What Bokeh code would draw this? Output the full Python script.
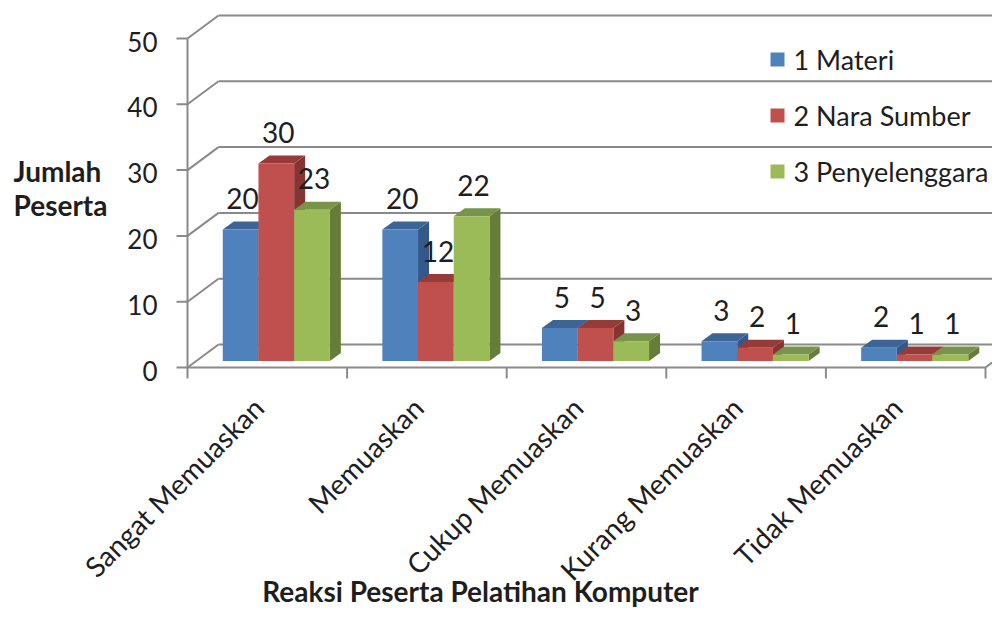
import math
from bokeh.plotting import figure
from bokeh.models import Range1d
from bokeh.core.properties import value
from bokeh.embed import file_html
from bokeh.resources import INLINE

# ---------------- data ----------------
categories = ["Sangat Memuaskan", "Memuaskan", "Cukup Memuaskan",
              "Kurang Memuaskan", "Tidak Memuaskan"]
series_names = ["1 Materi", "2 Nara Sumber", "3 Penyelenggara"]
materi = [20, 20, 5, 3, 2]
nara_sumber = [30, 12, 5, 2, 1]
penyelenggara = [23, 22, 3, 1, 1]
y_ticks = [0, 10, 20, 30, 40, 50]
y_title = ["Jumlah", "Peserta"]
x_title = "Reaksi Peserta Pelatihan Komputer"

front_colors = ["#4F81BD", "#C0504D", "#9BBB59"]
top_colors = ["#3C6495", "#973B39", "#78944A"]
side_colors = ["#34588A", "#853432", "#667C39"]
grid_color = "#8A8A8A"
text_color = "#1E1E1E"
FONT = "Lato"

# ---------------- layout (pixels) ----------------
W, H = 992, 609
AX_X = 187            # pixel column of the value axis
Y0 = 367              # pixel row (from top) of value 0
PX_X = 159.6          # pixels per category
PX_Y = 6.58           # pixels per value unit


def ux(px):
    return px / PX_X


def uy(px):
    return px / PX_Y


BACK_DX, BACK_DY = ux(31), uy(23)      # depth of the back wall
FRONT_DX, FRONT_DY = ux(9), uy(6.5)    # bars offset from the front plane
BAR_DX, BAR_DY = ux(11), uy(8)         # bar depth
BAR_W = ux(35.7)

p = figure(width=W, height=H, output_backend="svg", toolbar_location=None,
           x_range=Range1d(-ux(AX_X), ux(W - AX_X)),
           y_range=Range1d(-uy(H - Y0), uy(Y0)),
           x_axis_location=None, y_axis_location=None, tools="",
           min_border_left=0, min_border_right=0, min_border_top=0,
           min_border_bottom=0)
p.outline_line_color = None
p.grid.visible = False
p.background_fill_color = "white"

n_cat = len(categories)
nt = len(y_ticks)
xend = ux(W - AX_X) + 0.2

# value axis: line, ticks, labels
p.segment(x0=[0], y0=[y_ticks[0]], x1=[0], y1=[y_ticks[-1]],
          line_color=grid_color, line_width=2)
p.segment(x0=[-ux(11)] * nt, y0=y_ticks, x1=[0] * nt, y1=y_ticks,
          line_color=grid_color, line_width=2)
p.text(x=[-ux(30)] * nt, y=[t - uy(3) for t in y_ticks], text=[str(t) for t in y_ticks],
       text_align="right", text_baseline="middle", text_font=value(FONT),
       text_font_size="26px", text_color=text_color)

# back wall gridlines and side-wall diagonals
p.segment(x0=[BACK_DX] * nt, y0=[t + BACK_DY for t in y_ticks],
          x1=[xend] * nt, y1=[t + BACK_DY for t in y_ticks],
          line_color=grid_color, line_width=2)
p.segment(x0=[0] * nt, y0=y_ticks,
          x1=[BACK_DX] * nt, y1=[t + BACK_DY for t in y_ticks],
          line_color=grid_color, line_width=2)
# floor front edge, right diagonal, category ticks
p.segment(x0=[0], y0=[0], x1=[n_cat], y1=[0], line_color=grid_color, line_width=2)
p.segment(x0=[n_cat], y0=[0], x1=[n_cat + BACK_DX], y1=[BACK_DY],
          line_color=grid_color, line_width=2)
p.segment(x0=list(range(n_cat + 1)), y0=[0] * (n_cat + 1),
          x1=list(range(n_cat + 1)), y1=[-uy(11)] * (n_cat + 1),
          line_color=grid_color, line_width=2)

# ---------------- bars ----------------
all_series = [materi, nara_sumber, penyelenggara]
fx0, fx1, fy0, fy1, fcol = [], [], [], [], []
txs, tys, tcol = [], [], []
sxs, sys_, scol = [], [], []
lx, ly, lt = [], [], []
for c in range(n_cat):
    for s, vals in enumerate(all_series):
        v = vals[c]
        x0 = c + 0.5 - 1.5 * BAR_W + FRONT_DX + s * BAR_W
        x1 = x0 + BAR_W
        y0 = FRONT_DY
        y1 = v + FRONT_DY
        fx0.append(x0); fx1.append(x1); fy0.append(y0); fy1.append(y1)
        fcol.append(front_colors[s])
        txs.append([x0, x1, x1 + BAR_DX, x0 + BAR_DX])
        tys.append([y1, y1, y1 + BAR_DY, y1 + BAR_DY])
        tcol.append(top_colors[s])
        sxs.append([x1, x1 + BAR_DX, x1 + BAR_DX, x1])
        sys_.append([y0, y0 + BAR_DY, y1 + BAR_DY, y1])
        scol.append(side_colors[s])
        lx.append((x0 + x1) / 2 + ux(2))
        ly.append(y1 + uy(31))
        lt.append(str(v))

p.patches(xs=sxs, ys=sys_, fill_color=scol, line_color=None)
p.patches(xs=txs, ys=tys, fill_color=tcol, line_color=None)
p.quad(left=fx0, right=fx1, bottom=fy0, top=fy1, fill_color=fcol, line_color=None)

# data labels
p.text(x=lx, y=ly, text=lt, text_align="center", text_baseline="middle",
       text_font=value(FONT), text_font_size="28px", text_color=text_color)

# category labels
p.text(x=[c + 0.5 - ux(9) for c in range(n_cat)], y=[-uy(35)] * n_cat,
       text=categories, angle=math.pi / 4, text_align="right",
       text_baseline="middle", text_font=value(FONT), text_font_size="28px",
       text_color=text_color)

# x title
p.text(x=[ux(480 - AX_X)], y=[-uy(590 - Y0)], text=[x_title], text_align="center",
       text_baseline="middle", text_font=value(FONT), text_font_size="28px",
       text_font_style="bold", text_color=text_color)

# y title
p.text(x=[ux(13 - AX_X)] * 2, y=[uy(Y0 - 170), uy(Y0 - 204)], text=y_title,
       text_align="left", text_baseline="middle", text_font=value(FONT),
       text_font_size="28px", text_font_style="bold", text_color=text_color)

# legend
LEG_SQ_X, LEG_TX_X, LEG_Y, LEG_STEP = 777 - AX_X, 793 - AX_X, Y0 - 59, 56
p.scatter(x=[ux(LEG_SQ_X)] * 3, y=[uy(LEG_Y - LEG_STEP * i) for i in range(3)],
          marker="square", size=14, fill_color=front_colors, line_color=None)
p.text(x=[ux(LEG_TX_X)] * 3, y=[uy(LEG_Y - LEG_STEP * i) for i in range(3)],
       text=series_names, text_align="left", text_baseline="middle",
       text_font=value(FONT), text_font_size="27px", text_color=text_color)

open("out.html", "w").write(file_html(p, INLINE))
